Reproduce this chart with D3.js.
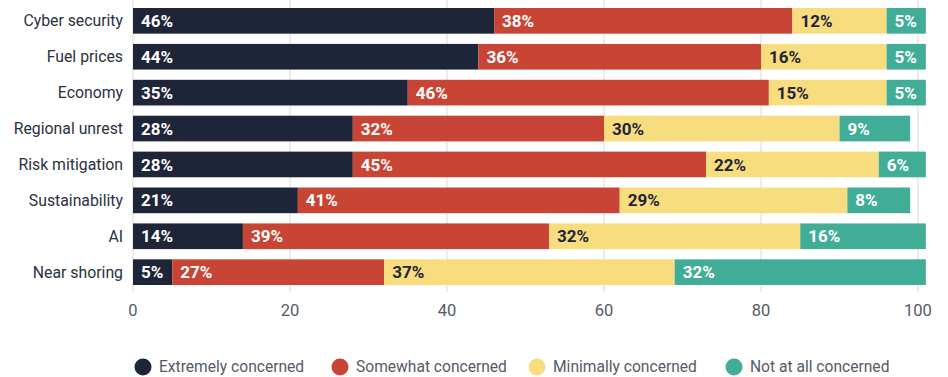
<!DOCTYPE html>
<html>
<head>
<meta charset="utf-8">
<script src="https://cdn.jsdelivr.net/npm/d3@7"></script>
<style>
  body { margin: 0; background: #fff; }
  svg { display: block; font-family: Roboto, "Noto Sans", sans-serif; }
</style>
</head>
<body>
<svg id="chart" width="948" height="377"></svg>
<script>
// Data
const categories = ['Cyber security', 'Fuel prices', 'Economy', 'Regional unrest', 'Risk mitigation', 'Sustainability', 'AI', 'Near shoring'];
const seriesNames = ['Extremely concerned', 'Somewhat concerned', 'Minimally concerned', 'Not at all concerned'];
const extremely = [46, 44, 35, 28, 28, 21, 14, 5];
const somewhat  = [38, 36, 46, 32, 45, 41, 39, 27];
const minimally = [12, 16, 15, 30, 22, 29, 32, 37];
const notAtAll  = [5, 5, 5, 9, 6, 8, 16, 32];
const xTicks = [0, 20, 40, 60, 80, 100];

const colors = ['#1e2538', '#c84535', '#f8dd7e', '#42ad97'];
const labelColors = ['#fff', '#fff', '#1e2538', '#fff'];

const width = 948, height = 377;
const margin = { top: 8, right: 30, bottom: 0, left: 133 };

const svg = d3.select('#chart');

const x = d3.scaleLinear().domain([0, 100]).range([margin.left, width - margin.right]);
const y = d3.scaleBand().domain(categories).range([8, 285]).paddingInner(0.285).paddingOuter(0);

// Build stacked rows
const rows = categories.map((c, i) => ({
    category: c,
    values: [extremely[i], somewhat[i], minimally[i], notAtAll[i]]
}));

// Gridlines
svg.append('g')
    .selectAll('line')
    .data(xTicks)
    .join('line')
    .attr('x1', d => x(d))
    .attr('x2', d => x(d))
    .attr('y1', 0)
    .attr('y2', 292)
    .attr('stroke', '#e6e6e6')
    .attr('stroke-width', 1.5);

// Bars
const rowG = svg.append('g')
    .selectAll('g')
    .data(rows)
    .join('g');

rowG.each(function(row) {
    const g = d3.select(this);
    let acc = 0;
    row.values.forEach((v, k) => {
        const x0 = acc;
        acc += v;
        g.append('rect')
            .attr('x', x(x0))
            .attr('y', y(row.category))
            .attr('width', x(acc) - x(x0))
            .attr('height', y.bandwidth())
            .attr('fill', colors[k]);
        g.append('text')
            .attr('x', x(x0) + 8)
            .attr('y', y(row.category) + y.bandwidth() / 2)
            .attr('dy', '0.36em')
            .attr('fill', labelColors[k])
            .attr('font-size', 17)
            .attr('font-weight', 700)
            .text(v + '%');
    });
});

// Category labels
svg.append('g')
    .selectAll('text')
    .data(categories)
    .join('text')
    .attr('x', margin.left - 10)
    .attr('y', d => y(d) + y.bandwidth() / 2)
    .attr('dy', '0.35em')
    .attr('text-anchor', 'end')
    .attr('fill', '#2b3140')
    .attr('font-size', 15.8)
    .text(d => d);

// X axis tick labels
svg.append('g')
    .selectAll('text')
    .data(xTicks)
    .join('text')
    .attr('x', d => x(d))
    .attr('y', 310)
    .attr('dy', '0.35em')
    .attr('text-anchor', 'middle')
    .attr('fill', '#555a66')
    .attr('font-size', 16.5)
    .text(d => d);

// Legend
const legendX = [143, 340, 537, 734];
const legend = svg.append('g')
    .selectAll('g')
    .data(seriesNames)
    .join('g')
    .attr('transform', (d, i) => `translate(${legendX[i]},367)`);

legend.append('circle')
    .attr('r', 8.5)
    .attr('fill', (d, i) => colors[i]);

legend.append('text')
    .attr('x', 16)
    .attr('dy', '0.35em')
    .attr('fill', '#555a66')
    .attr('font-size', 15.6)
    .text(d => d);
</script>
</body>
</html>
